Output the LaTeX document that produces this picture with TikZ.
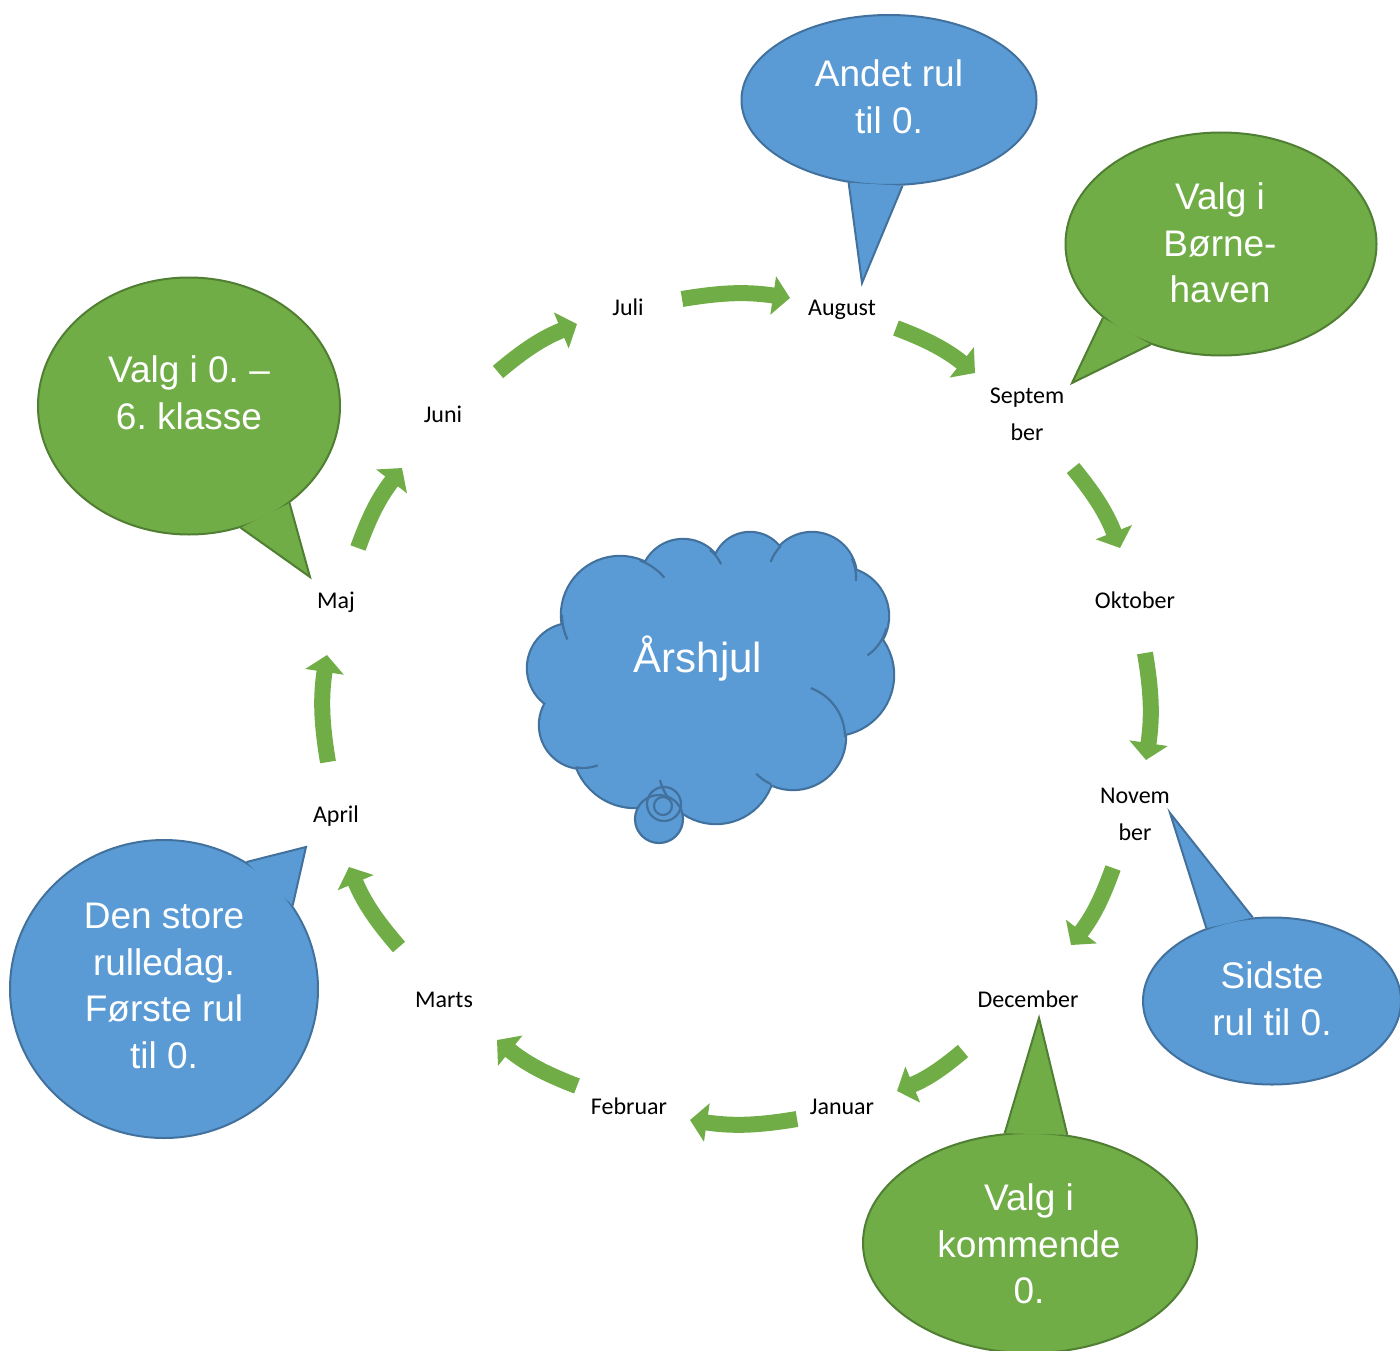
\documentclass[tikz,border=0pt]{standalone}
\usepackage{fontspec}
\setmainfont{Liberation Sans}
\newfontfamily\calibfont{Carlito}
\usetikzlibrary{shapes.geometric,arrows.meta}
\definecolor{cblue}{HTML}{5B9BD5}
\definecolor{cblueline}{HTML}{41719C}
\definecolor{cgreen}{HTML}{70AD47}
\definecolor{cgreenline}{HTML}{507E32}
\frenchspacing
\begin{document}
\begin{tikzpicture}[x=1pt,y=-1pt,
  month/.style={font=\calibfont\fontsize{24}{29}\selectfont, inner sep=0pt, anchor=base},
  flow/.style={draw=cgreen, line width=16pt, -{Triangle[length=17pt,width=38pt]}, bend left=9},
  bubble/.style={ellipse, inner sep=0pt, line width=2pt},
  bblue/.style={bubble, fill=cblue, draw=cblueline},
  bgreen/.style={bubble, fill=cgreen, draw=cgreenline},
  btext/.style={text=white, align=center, inner sep=0pt, font=\fontsize{37}{46.5}\selectfont},
  cloudline/.style={draw=cblueline, line width=2.2pt},
]
\useasboundingbox (0,0) rectangle (1400,1351);

% ---------- month labels ----------
\node[month] (juli)  at (628,315)  {Juli};
\node[month] (aug)   at (842,315)  {August};
\node[month] (sep1)  at (1027,403) {Septem};
\node[month] (sep2)  at (1027,440) {ber};
\node[month] (okt)   at (1135,608) {Oktober};
\node[month] (nov1)  at (1135,803) {Novem};
\node[month] (nov2)  at (1135,840) {ber};
\node[month] (dec)   at (1028,1007) {December};
\node[month] (jan)   at (842,1114) {Januar};
\node[month] (feb)   at (629,1114) {Februar};
\node[month] (mar)   at (444,1007) {Marts};
\node[month] (apr)   at (336,822)  {April};
\node[month] (maj)   at (336,608)  {Maj};
\node[month] (jun)   at (443,422)  {Juni};

% ---------- arrows ----------
\coordinate (a1s) at (358,548);  \coordinate (a1e) at (402,468);
\coordinate (a2s) at (498,372);  \coordinate (a2e) at (577,324);
\coordinate (a3s) at (682,299);  \coordinate (a3e) at (790,298);
\coordinate (a4s) at (896,328);  \coordinate (a4e) at (975,373);
\coordinate (a5s) at (1073,468); \coordinate (a5e) at (1120,548);
\coordinate (a6s) at (1145,653); \coordinate (a6e) at (1146,760);
\coordinate (a7s) at (1113,868); \coordinate (a7e) at (1071,945);
\coordinate (a8s) at (963,1051); \coordinate (a8e) at (897,1091);
\coordinate (a9s) at (797,1119); \coordinate (a9e) at (690,1120);
\coordinate (a10s) at (577,1086); \coordinate (a10e) at (497,1040);
\coordinate (a11s) at (399,947); \coordinate (a11e) at (349,867);
\coordinate (a12s) at (328,762); \coordinate (a12e) at (327,655);
\foreach \i in {1,...,12} \draw[flow] (a\i s) to (a\i e);

% ---------- cloud ----------
\def\cloudlobes{620/615/58, 683/582/42, 750/570/37, 812/577/44, 840/616/48, 833/675/60, 793/737/52, 716/765/58, 635/745/62, 583/725/43, 572/668/44}
\foreach \cx/\cy/\r in \cloudlobes \draw[cloudline, line width=4.4pt] (\cx,\cy) circle[radius=\r];
\foreach \cx/\cy/\r in \cloudlobes \fill[cblue] (\cx,\cy) circle[radius=\r];
\fill[cblue] (620,615) -- (683,582) -- (812,577) -- (833,675) -- (793,737) -- (716,765) -- (583,725) -- (572,668) -- cycle;
\foreach \cx/\cy/\r/\aa/\ab in {620/615/58/180/155, 620/615/58/-70/-40, 683/582/42/-50/-25,
   812/577/44/225/200, 812/577/44/-25/5, 840/616/48/15/55, 793/737/52/-70/0,
   793/737/52/115/135, 716/765/58/140/165, 583/725/43/70/100}
  \draw[cloudline] (\cx,\cy) ++(\aa:\r) arc[start angle=\aa, end angle=\ab, radius=\r];
\filldraw[fill=cblue, cloudline] (659,819) circle[radius=24];
\draw[cloudline] (664,804) circle[radius=17];
\draw[cloudline] (663,806) circle[radius=9];
\node[font=\fontsize{42}{50}\selectfont, text=white, anchor=base, inner sep=0pt] (arshjul) at (698,672) {Årshjul};

% ---------- callouts ----------
% Andet rul
\node[bblue, minimum width=295pt, minimum height=170pt] (andet) at (889,100) {};
\coordinate (andettip) at (862,283);
\fill[cblue] (andet.244) -- (andettip) -- (andet.279) -- cycle;
\draw[cblueline, line width=2pt, line join=miter] (andet.244) -- (andettip) -- (andet.279);
\node[btext] (andett) at (889,97) {Andet rul\\til 0.};

% Valg i Boernehaven
\node[bgreen, minimum width=311pt, minimum height=223pt] (born) at (1221,244) {};
\coordinate (borntip) at (1072,383);
\fill[cgreen] (born.212.7) -- (borntip) -- (born.235.5) -- cycle;
\draw[cgreenline, line width=2pt] (born.212.7) -- (borntip) -- (born.235.5);
\node[btext] (bornt) at (1220,243) {Valg i\\Børne-\\haven};

% Valg i 0.-6.
\node[bgreen, minimum width=302pt, minimum height=257pt] (skole) at (189,406) {};
\coordinate (skoletip) at (310,577);
\fill[cgreen] (skole.316.8) -- (skoletip) -- (skole.293.5) -- cycle;
\draw[cgreenline, line width=2pt] (skole.316.8) -- (skoletip) -- (skole.293.5);
\node[btext] (skolet) at (189,393) {Valg i 0. –\\6. klasse};

% Den store rulledag
\node[bblue, minimum width=308pt, minimum height=298pt] (rulle) at (164,989) {};
\coordinate (rulletip) at (306,847);
\fill[cblue] (rulle.57) -- (rulletip) -- (rulle.33.8) -- cycle;
\draw[cblueline, line width=2pt] (rulle.57) -- (rulletip) -- (rulle.33.8);
\node[btext] (rullet) at (164,986) {Den store\\rulledag.\\Første rul\\til 0.};

% Sidste rul
\node[bblue, minimum width=258pt, minimum height=167pt] (sidste) at (1272,1001) {};
\coordinate (sidstetip) at (1170,813);
\fill[cblue] (sidste.132.4) -- (sidstetip) -- (sidste.103) -- cycle;
\draw[cblueline, line width=2pt] (sidste.132.4) -- (sidstetip) -- (sidste.103);
\node[btext] (sidstet) at (1272,999) {Sidste\\rul til 0.};

% Valg i kommende 0.
\node[bgreen, minimum width=334pt, minimum height=220pt] (komm) at (1030,1243) {};
\coordinate (kommtip) at (1039,1018);
\fill[cgreen] (komm.103.3) -- (kommtip) -- (komm.71.6) -- cycle;
\draw[cgreenline, line width=2pt] (komm.103.3) -- (kommtip) -- (komm.71.6);
\node[btext] (kommt) at (1029,1244) {Valg i\\kommende\\0.};
\end{tikzpicture}
\end{document}
